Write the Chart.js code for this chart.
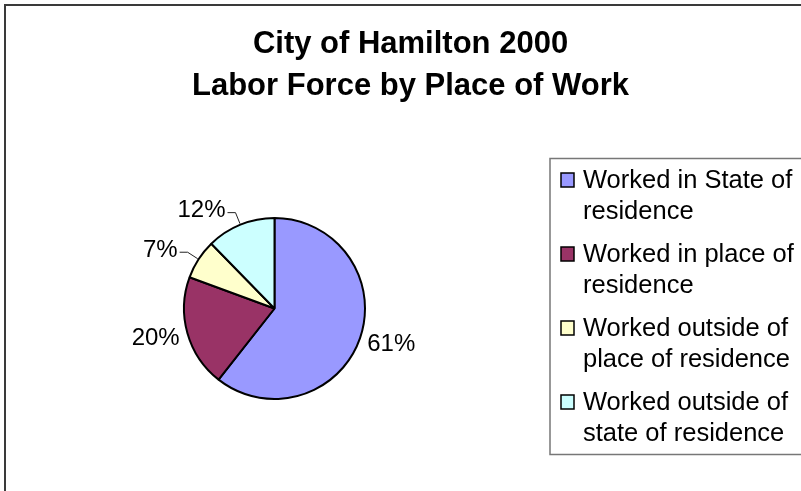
<!DOCTYPE html>
<html>
<head>
<meta charset="utf-8">
<title>City of Hamilton 2000 - Labor Force by Place of Work</title>
<script src="https://cdn.jsdelivr.net/npm/chart.js@4.4.1/dist/chart.umd.min.js"></script>
<style>
  html, body { margin: 0; padding: 0; background: #fff; }
  #wrap { width: 801px; height: 491px; position: relative; }
</style>
</head>
<body>
<div id="wrap"><canvas id="chart"></canvas></div>
<script>
const titleLines = ['City of Hamilton 2000', 'Labor Force by Place of Work'];
const categories = [
  ['Worked in State of', 'residence'],
  ['Worked in place of', 'residence'],
  ['Worked outside of', 'place of residence'],
  ['Worked outside of', 'state of residence']
];
const shares = [60.6, 20.0, 7.1, 12.3]; // percent of labor force
const sliceColors = ['#9999FF', '#993366', '#FFFFCC', '#CCFFFF'];

const FONT = '"Liberation Sans", Arial, Helvetica, sans-serif';
Chart.defaults.font.family = FONT;

// white background + the chart border (runs off the right/bottom like the original)
const framePlugin = {
  id: 'frame',
  beforeDraw(chart) {
    const ctx = chart.ctx;
    ctx.save();
    ctx.fillStyle = '#fff';
    ctx.fillRect(0, 0, chart.width, chart.height);
    ctx.strokeStyle = '#3a3a3a';
    ctx.lineWidth = 2;
    ctx.strokeRect(5, 5, chart.width + 20, chart.height + 20);
    ctx.restore();
  }
};

// legend drawn in its own layout box on the right, so the title stays centred on the whole width
const sideLegend = {
  id: 'sideLegend',
  beforeInit(chart) {
    const box = {
      position: 'right',
      weight: 0,
      fullSize: false,
      options: {},
      isHorizontal() { return false; },
      update(maxWidth, maxHeight) {
        this.width = 272;
        this.height = maxHeight;
      },
      draw() {
        const ctx = chart.ctx;
        const colors = chart.data.datasets[0].backgroundColor;
        const left = this.left + 21;
        const top = (this.top + this.bottom) / 2 - 150;
        ctx.save();
        ctx.strokeStyle = '#777';
        ctx.lineWidth = 1.5;
        ctx.strokeRect(left, top, 400, 296);
        ctx.font = '25.5px ' + FONT;
        ctx.textBaseline = 'alphabetic';
        ctx.textAlign = 'left';
        categories.forEach((lines, i) => {
          const base = top + 29.5 + i * 74;
          ctx.fillStyle = colors[i];
          ctx.fillRect(left + 11, base - 15, 13, 14);
          ctx.strokeStyle = '#000';
          ctx.lineWidth = 1.5;
          ctx.strokeRect(left + 11, base - 15, 13, 14);
          ctx.fillStyle = '#000';
          lines.forEach((t, j) => ctx.fillText(t, left + 33, base + j * 31));
        });
        ctx.restore();
      }
    };
    if (Chart.layouts && Chart.layouts.addBox) {
      Chart.layouts.addBox(chart, box);
    } else {
      box._layers = () => [{ z: 0, draw() { box.draw(); } }];
      chart.boxes.push(box);
    }
  }
};

// percentage labels, small slices get a leader line like Excel
const pctLabels = {
  id: 'pctLabels',
  afterDatasetsDraw(chart) {
    const ctx = chart.ctx;
    const meta = chart.getDatasetMeta(0);
    const values = chart.data.datasets[0].data;
    const total = values.reduce((a, b) => a + b, 0);
    ctx.save();
    ctx.font = '24px ' + FONT;
    ctx.fillStyle = '#000';
    ctx.textBaseline = 'middle';
    meta.data.forEach((arc, i) => {
      const p = arc.getProps(['x', 'y', 'startAngle', 'endAngle', 'outerRadius'], true);
      const mid = (p.startAngle + p.endAngle) / 2;
      const dx = Math.cos(mid), dy = Math.sin(mid);
      const ex = p.x + dx * (p.outerRadius + 1);
      const ey = p.y + dy * (p.outerRadius + 1);
      const share = values[i] / total;
      const text = Math.round(share * 100) + '%';
      const w = ctx.measureText(text).width;
      if (share >= 0.15) {
        ctx.textAlign = 'center';
        ctx.fillText(text, ex + dx * 8 + dx * w / 2, ey + dy * 8 + dy * 9);
      } else {
        const side = dx < 0 ? -1 : 1;
        const bx = ex + dx * 12, by = ey + dy * 12;
        ctx.strokeStyle = '#222';
        ctx.lineWidth = 1;
        ctx.beginPath();
        ctx.moveTo(ex, ey);
        ctx.lineTo(bx, by);
        ctx.lineTo(bx + side * 8, by);
        ctx.stroke();
        ctx.textAlign = side < 0 ? 'right' : 'left';
        ctx.fillText(text, bx + side * 10, by - 2);
      }
    });
    ctx.restore();
  }
};

new Chart(document.getElementById('chart'), {
  type: 'pie',
  data: {
    labels: categories,
    datasets: [{
      data: shares,
      backgroundColor: sliceColors,
      borderColor: '#000',
      borderWidth: 2
    }]
  },
  options: {
    responsive: true,
    maintainAspectRatio: false,
    animation: false,
    radius: 90.5,
    layout: { padding: { left: 20, right: 0, top: 0, bottom: 1 } },
    plugins: {
      legend: { display: false },
      tooltip: { enabled: false },
      title: {
        display: true,
        text: titleLines,
        color: '#000',
        font: { family: FONT, size: 31, weight: 'bold', lineHeight: 42 / 31 },
        padding: { top: 23, bottom: 20 }
      }
    }
  },
  plugins: [framePlugin, sideLegend, pctLabels]
});
</script>
</body>
</html>
